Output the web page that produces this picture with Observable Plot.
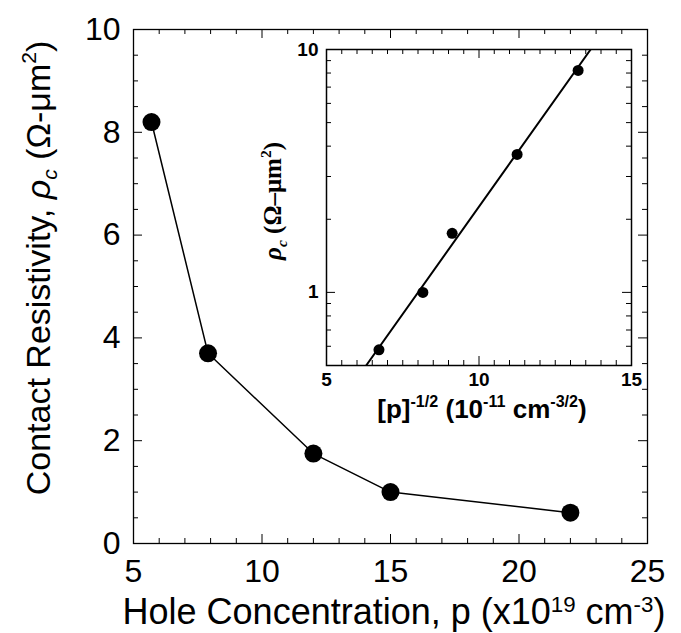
<!DOCTYPE html>
<html><head><meta charset="utf-8">
<script src="https://cdn.jsdelivr.net/npm/d3@7"></script>
<script src="https://cdn.jsdelivr.net/npm/@observablehq/plot@0.6"></script>
<style>
body{margin:0;background:#fff}
#chart{position:relative;width:681px;height:633px}
#chart svg{position:absolute}
</style>
</head><body><div id="chart"></div>
<script>
// ---- data ----
const holeConc = [5.7, 7.9, 12.0, 15.0, 22.0];        // x10^19 cm^-3
const rhoC     = [8.2, 3.7, 1.75, 1.0, 0.6];          // Ω-μm²
const invSqrtP = [13.25, 11.25, 9.12, 8.16, 6.72];    // 10^-11 cm^-3/2
const rhoInset = [8.2, 3.7, 1.75, 1.0, 0.58];
const fitX = [6.3, 13.66];
const fitY = [0.5, 10];
const mainXTicks = [5, 10, 15, 20, 25];
const mainYTicks = [0, 2, 4, 6, 8, 10];
const insetXTicks = [5, 10, 15];
const insetYTicks = [1, 10];

const mainData = holeConc.map((p, i) => ({p, r: rhoC[i]}));
const insetData = invSqrtP.map((x, i) => ({x, r: rhoInset[i]}));
const fitData = fitX.map((x, i) => ({x, r: fitY[i]}));

const FONT = "'Liberation Sans', Arial, Helvetica, sans-serif";
const fmt = d => String(d);

function boxTicks(xv, yv, len, fw, fh, sw) {
  const o = {stroke: "#000", strokeWidth: sw};
  return [
    Plot.tickX(xv, {x: d => d, insetTop: fh - len, ...o}),
    Plot.tickX(xv, {x: d => d, insetBottom: fh - len, ...o}),
    Plot.tickY(yv, {y: d => d, insetRight: fw - len, ...o}),
    Plot.tickY(yv, {y: d => d, insetLeft: fw - len, ...o})
  ];
}

function richText(svg, {x, y, rotate = 0, fontSize, family = FONT, weight = "normal", anchor = "middle", supRaise = 0.42}, parts) {
  const t = d3.select(svg).append("text")
    .attr("transform", `translate(${x},${y}) rotate(${rotate})`)
    .attr("text-anchor", anchor).attr("font-size", fontSize)
    .attr("font-family", family).attr("font-weight", weight).attr("fill", "#000");
  let shift = 0;
  for (const p of parts) {
    const target = p.sup ? -fontSize * supRaise : p.sub ? fontSize * 0.22 : 0;
    const s = t.append("tspan").text(p.t).attr("dy", target - shift);
    shift = target;
    if (p.sup || p.sub) s.attr("font-size", fontSize * 0.62);
    if (p.italic) s.attr("font-style", "italic");
    if (p.family) s.attr("font-family", p.family);
  }
}

// ---- main chart ----
const W = 681, H = 633, mL = 133, mR = 34, mT = 29, mB = 90;
const fw = W - mL - mR, fh = H - mT - mB;
const xMinor = d3.range(5, 25.001, 1).filter(v => v % 5 !== 0);
const yMinor = d3.range(0, 10.001, 0.5).filter(v => v % 2 !== 0);

const main = Plot.plot({
  width: W, height: H,
  marginLeft: mL, marginRight: mR, marginTop: mT, marginBottom: mB,
  x: {domain: [5, 25]},
  y: {domain: [0, 10]},
  style: {background: "white", fontFamily: FONT, color: "#000"},
  marks: [
    ...boxTicks(xMinor, yMinor, 5, fw, fh, 1),
    ...boxTicks(mainXTicks, mainYTicks, 9, fw, fh, 1),
    Plot.frame({stroke: "#000", strokeWidth: 1.3}),
    Plot.axisX(mainXTicks, {tickSize: 0, tickPadding: 16, fontSize: 32, tickFormat: fmt, label: null}),
    Plot.axisY(mainYTicks, {tickSize: 0, tickPadding: 13, fontSize: 32, tickFormat: fmt, label: null}),
    Plot.line(mainData, {x: "p", y: "r", stroke: "#000", strokeWidth: 1.5}),
    Plot.dot(mainData, {x: "p", y: "r", r: 9, fill: "#000"})
  ]
});
main.style.left = "0px"; main.style.top = "0px";
document.getElementById("chart").appendChild(main);

richText(main, {x: 394, y: 624, fontSize: 36, supRaise: 0.34}, [
  {t: "Hole Concentration, p (x10"}, {t: "19", sup: true}, {t: " cm"}, {t: "-3", sup: true}, {t: ")"}
]);
richText(main, {x: 50, y: 268, rotate: -90, fontSize: 34}, [
  {t: "Contact Resistivity, "}, {t: "ρ", italic: true}, {t: "c", sub: true, italic: true},
  {t: " (Ω-μm"}, {t: "2", sup: true}, {t: ")"}
]);

// ---- inset ----
const iL = 250, iT = 0, iW = 431, iH = 440, imL = 76, imT = 49, imR = 50, imB = 75;
const ifw = iW - imL - imR, ifh = iH - imT - imB;
const ixMinor = d3.range(5, 15.001, 0.5).filter(v => v % 5 !== 0);
const iyMinor = [0.5, 0.6, 0.7, 0.8, 0.9, 2, 3, 4, 5, 6, 7, 8, 9];

const inset = Plot.plot({
  width: iW, height: iH,
  marginLeft: imL, marginRight: imR, marginTop: imT, marginBottom: imB,
  x: {domain: [5, 15]},
  y: {type: "log", domain: [0.5, 10]},
  style: {background: "transparent", fontFamily: FONT, color: "#000"},
  marks: [
    Plot.frame({fill: "white"}),
    ...boxTicks(ixMinor, iyMinor, 5, ifw, ifh, 1),
    ...boxTicks(insetXTicks, insetYTicks, 9, ifw, ifh, 1),
    Plot.line(fitData, {x: "x", y: "r", stroke: "#000", strokeWidth: 2, clip: true}),
    Plot.dot(insetData, {x: "x", y: "r", r: 5.5, fill: "#000"}),
    Plot.frame({stroke: "#000", strokeWidth: 1.5}),
    Plot.axisX(insetXTicks, {tickSize: 0, tickPadding: 7, fontSize: 19, fontWeight: "bold", tickFormat: fmt, label: null}),
    Plot.axisY(insetYTicks, {tickSize: 0, tickPadding: 8, fontSize: 19, fontWeight: "bold", tickFormat: fmt, label: null})
  ]
});
inset.style.left = iL + "px"; inset.style.top = iT + "px";
document.getElementById("chart").appendChild(inset);

richText(inset, {x: 232, y: 418, fontSize: 26, weight: "bold"}, [
  {t: "[p]"}, {t: "-1/2", sup: true}, {t: " (10"}, {t: "-11", sup: true}, {t: " cm"}, {t: "-3/2", sup: true}, {t: ")"}
]);
richText(inset, {x: 31, y: 201, rotate: -90, fontSize: 25, weight: "bold", family: "'Liberation Serif', 'Times New Roman', serif"}, [
  {t: "ρ", italic: true}, {t: "c", sub: true, italic: true}, {t: " (Ω–μm"}, {t: "2", sup: true}, {t: ")"}
]);
</script>
</body></html>
